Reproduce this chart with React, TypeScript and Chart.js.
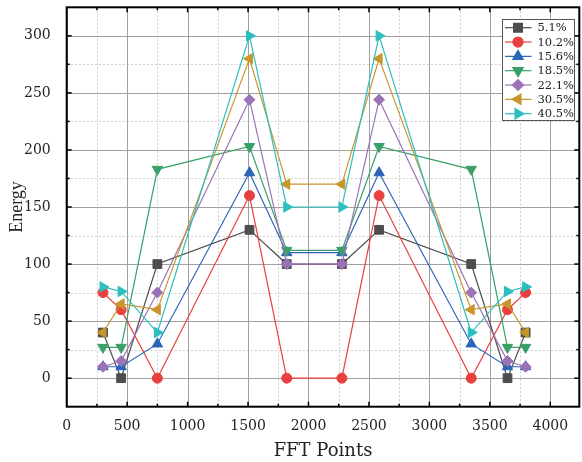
import React, { useEffect, useRef } from 'react';
import { Chart, registerables } from 'chart.js';
import { drawPoint } from 'chart.js/helpers';

Chart.register(...registerables);

const fftPoints = [300, 450, 750, 1512, 1820, 2276, 2584, 3346, 3646, 3796];
const seriesLabels = ['5.1%', '10.2%', '15.6%', '18.5%', '22.1%', '30.5%', '40.5%'];
const s51 = [40, 0, 100, 130, 100, 100, 130, 100, 0, 40];
const s102 = [75, 60, 0, 160, 0, 0, 160, 0, 60, 75];
const s156 = [10, 10, 30, 180, 110, 110, 180, 30, 10, 10];
const s185 = [27, 27, 183, 203, 112, 112, 203, 183, 27, 27];
const s221 = [10, 15, 75, 244, 100, 100, 244, 75, 15, 10];
const s305 = [40, 65, 60, 280, 170, 170, 280, 60, 65, 40];
const s405 = [80, 76, 40, 300, 150, 150, 300, 40, 76, 80];

const xTicks = [0, 500, 1000, 1500, 2000, 2500, 3000, 3500, 4000];
const xMinorTicks = [250, 750, 1250, 1750, 2250, 2750, 3250, 3750];
const yTicks = [0, 50, 100, 150, 200, 250, 300];
const yMinorTicks = [25, 75, 125, 175, 225, 275];

const seriesValues = [s51, s102, s156, s185, s221, s305, s405];
const colors = ['#4d4d4d', '#e8403e', '#2a65b8', '#3aa068', '#9b72b6', '#c9962c', '#2cbfc0'];
const styles: any[] = [
  { pointStyle: 'rect', rotation: 0, radius: 6.2 },
  { pointStyle: 'circle', rotation: 0, radius: 5 },
  { pointStyle: 'triangle', rotation: 0, radius: 6 },
  { pointStyle: 'triangle', rotation: 180, radius: 6 },
  { pointStyle: 'rectRot', rotation: 0, radius: 5.5 },
  { pointStyle: 'triangle', rotation: 270, radius: 6 },
  { pointStyle: 'triangle', rotation: 90, radius: 6 },
];

const framePlugin = {
  id: 'frameGrid',
  beforeDatasetsDraw(chart: any) {
    const { ctx, chartArea: a, scales } = chart;
    const x = scales.x, y = scales.y;
    ctx.save();
    ctx.lineWidth = 1;
    ctx.strokeStyle = '#cdcdcd';
    ctx.setLineDash([2, 2]);
    for (const v of xMinorTicks) {
      const px = Math.round(x.getPixelForValue(v)) + 0.5;
      ctx.beginPath(); ctx.moveTo(px, a.top); ctx.lineTo(px, a.bottom); ctx.stroke();
    }
    for (const v of yMinorTicks) {
      const py = Math.round(y.getPixelForValue(v)) + 0.5;
      ctx.beginPath(); ctx.moveTo(a.left, py); ctx.lineTo(a.right, py); ctx.stroke();
    }
    ctx.setLineDash([]);
    ctx.strokeStyle = '#a0a0a0';
    for (const v of xTicks) {
      const px = Math.round(x.getPixelForValue(v)) + 0.5;
      ctx.beginPath(); ctx.moveTo(px, a.top); ctx.lineTo(px, a.bottom); ctx.stroke();
    }
    for (const v of yTicks) {
      const py = Math.round(y.getPixelForValue(v)) + 0.5;
      ctx.beginPath(); ctx.moveTo(a.left, py); ctx.lineTo(a.right, py); ctx.stroke();
    }
    ctx.restore();
  },
  afterDatasetsDraw(chart: any) {
    const { ctx, chartArea: a, scales } = chart;
    const x = scales.x, y = scales.y;
    ctx.save();
    ctx.strokeStyle = '#000';
    ctx.lineWidth = 1.5;
    const tick = (list: number[], len: number) => {
      for (const v of list) {
        const px = x.getPixelForValue(v);
        if (px < a.left + 1 || px > a.right - 1) continue;
        ctx.beginPath(); ctx.moveTo(px, a.bottom); ctx.lineTo(px, a.bottom - len); ctx.stroke();
        ctx.beginPath(); ctx.moveTo(px, a.top); ctx.lineTo(px, a.top + len); ctx.stroke();
      }
    };
    tick(xTicks, 5); tick(xMinorTicks, 3);
    const ytick = (list: number[], len: number) => {
      for (const v of list) {
        const py = y.getPixelForValue(v);
        ctx.beginPath(); ctx.moveTo(a.left, py); ctx.lineTo(a.left + len, py); ctx.stroke();
        ctx.beginPath(); ctx.moveTo(a.right, py); ctx.lineTo(a.right - len, py); ctx.stroke();
      }
    };
    ytick(yTicks, 5); ytick(yMinorTicks, 3);
    ctx.lineWidth = 2;
    ctx.strokeRect(a.left, a.top, a.right - a.left, a.bottom - a.top);

    // legend
    const bx = 502.5, by = 19.5, bw = 72, bh = 101;
    ctx.fillStyle = '#fff';
    ctx.fillRect(bx, by, bw, bh);
    ctx.lineWidth = 1;
    ctx.strokeStyle = '#555';
    ctx.strokeRect(bx, by, bw, bh);
    ctx.font = '11.5px "DejaVu Serif"';
    ctx.textBaseline = 'middle';
    ctx.textAlign = 'left';
    seriesLabels.forEach((lab, i) => {
      const ry = 27.7 + i * 14.33;
      ctx.strokeStyle = colors[i];
      ctx.lineWidth = 1.2;
      ctx.beginPath(); ctx.moveTo(505, ry); ctx.lineTo(531.5, ry); ctx.stroke();
      ctx.fillStyle = colors[i];
      ctx.strokeStyle = colors[i];
      drawPoint(ctx, { pointStyle: styles[i].pointStyle, rotation: styles[i].rotation, radius: styles[i].radius, borderWidth: 1 } as any, 518, ry);
      ctx.fillStyle = '#222';
      ctx.fillText(lab, 537.5, ry + 0.5);
    });
    ctx.restore();
  },
};

export default function App() {
  const ref = useRef<HTMLCanvasElement>(null);
  useEffect(() => {
    if (!ref.current) return;
    const datasets = seriesValues.map((vals, i) => ({
      label: seriesLabels[i],
      data: fftPoints.map((fx, j) => ({ x: fx, y: vals[j] })),
      borderColor: colors[i],
      backgroundColor: colors[i],
      pointBackgroundColor: colors[i],
      pointBorderColor: colors[i],
      borderWidth: 1.2,
      pointBorderWidth: 1,
      pointStyle: styles[i].pointStyle,
      pointRotation: styles[i].rotation,
      pointRadius: styles[i].radius,
      pointHoverRadius: styles[i].radius,
      order: 7 - i,
      tension: 0,
      clip: false as any,
    }));
    const chart = new Chart(ref.current, {
      type: 'line',
      data: { datasets },
      options: {
        animation: false,
        responsive: false,
        devicePixelRatio: 1,
        layout: { autoPadding: false, padding: { left: 0, right: 2.7, top: 7.3, bottom: 0 } },
        plugins: { legend: { display: false }, tooltip: { enabled: false } },
        scales: {
          x: {
            type: 'linear',
            min: 0,
            max: 4240,
            grid: { display: false },
            border: { display: false },
            afterBuildTicks: (s: any) => { s.ticks = xTicks.map((v) => ({ value: v })); },
            afterFit: (s: any) => { s.height = 55.3; s.paddingLeft = 0; s.paddingRight = 0; s.paddingTop = 0; s.paddingBottom = 0; },
            ticks: { padding: 3, color: '#222', font: { family: 'DejaVu Serif', size: 14 }, callback: (v: any) => String(v) },
            title: {
              display: true,
              text: 'FFT Points',
              color: '#222',
              padding: { top: 0, bottom: 0 },
              font: { family: 'DejaVu Serif', size: 18, weight: 'normal' },
            },
          },
          y: {
            type: 'linear',
            min: -25,
            max: 325,
            grid: { display: false },
            border: { display: false },
            afterBuildTicks: (s: any) => { s.ticks = yTicks.map((v) => ({ value: v })); },
            afterFit: (s: any) => { s.width = 66.7; s.paddingTop = 0; s.paddingBottom = 0; s.paddingLeft = 0; s.paddingRight = 0; },
            ticks: { padding: 8, color: '#222', font: { family: 'DejaVu Serif', size: 14 }, callback: (v: any) => String(v) },
            title: {
              display: true,
              text: 'Energy',
              color: '#222',
              padding: { top: 6, bottom: 0 },
              font: { family: 'Liberation Serif', size: 18, weight: 'normal' },
            },
          },
        },
      },
      plugins: [framePlugin],
    } as any);
    return () => chart.destroy();
  }, []);
  return (
    <div style={{ position: 'absolute', left: 0, top: 0, width: 582, height: 462, background: '#fff' }}>
      <canvas ref={ref} width={582} height={462} style={{ width: 582, height: 462, display: 'block' }} />
    </div>
  );
}
